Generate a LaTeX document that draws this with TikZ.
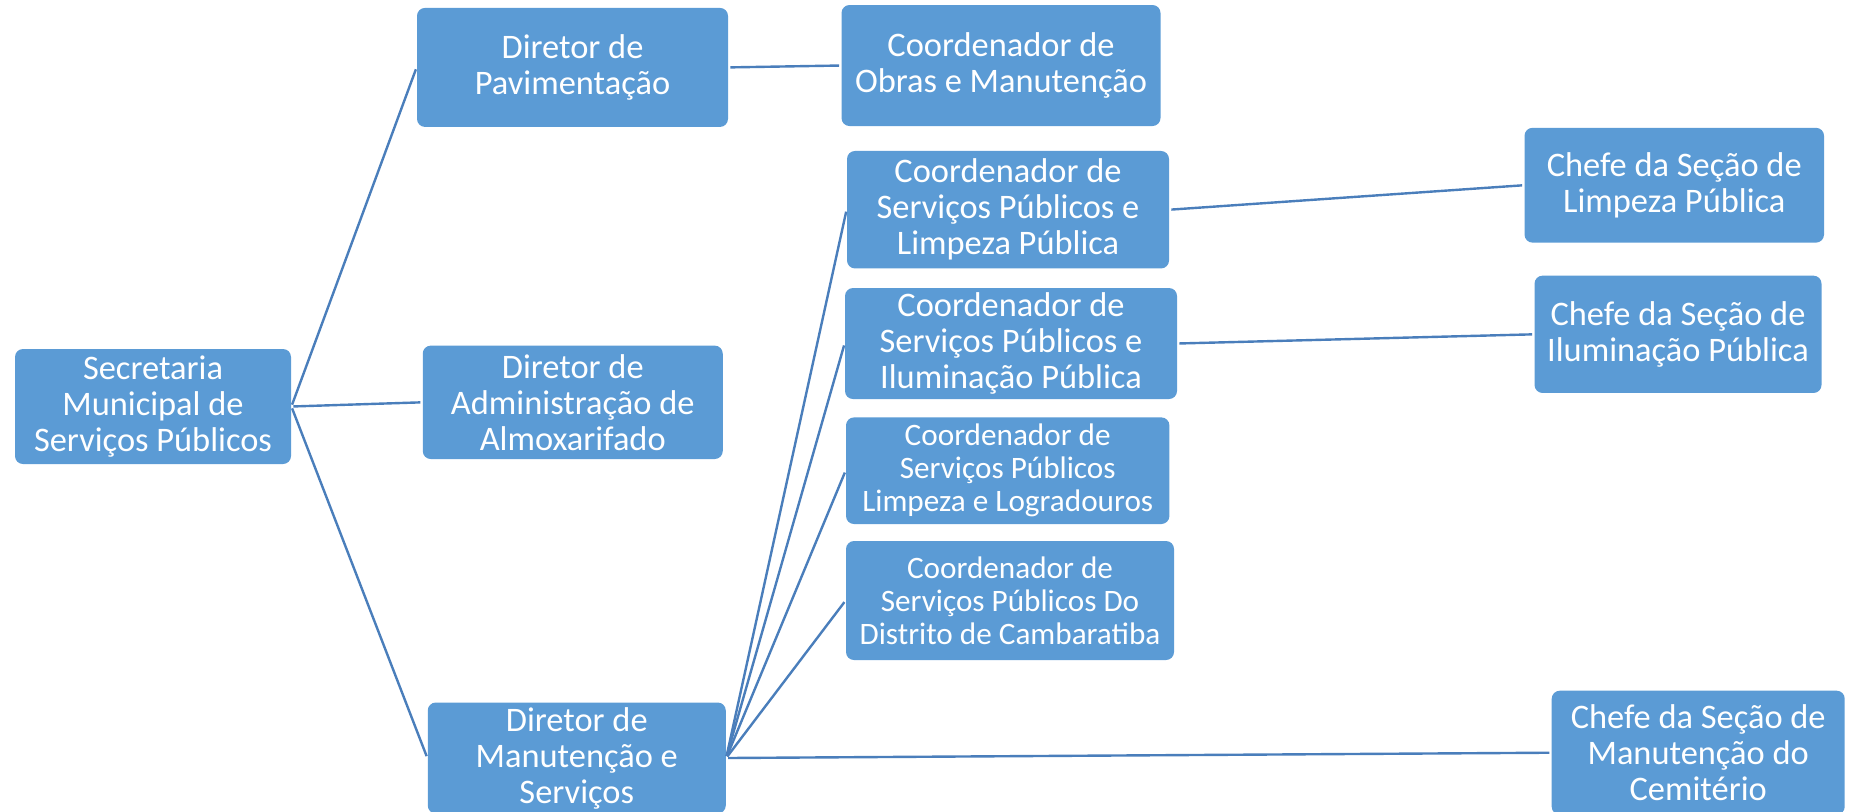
\documentclass[tikz,border=0pt]{standalone}
\usepackage{fontspec}
\setmainfont{Carlito}
\definecolor{boxblue}{HTML}{5B9BD5}
\definecolor{lineblue}{HTML}{4A7EBB}

\begin{document}
\begin{tikzpicture}[x=0.5pt,y=-0.5pt,
    box/.style={fill=boxblue, rounded corners=4pt, text=white, align=center,
      font=\fontsize{17.2}{18}\selectfont, inner sep=1pt},
    smallbox/.style={box, font=\fontsize{15.6}{16.5}\selectfont},
    link/.style={lineblue, line width=1.2pt, shorten <=1pt, shorten >=1pt}]
    \useasboundingbox (0,0) rectangle (1856,811);
    % First, locate each of the boxes and name them
    \node[box, minimum width=138pt, minimum height=57.5pt] (secretaria) at (153,406.5) {Secretaria\\Municipal de\\Serviços Públicos};
    \node[box, minimum width=155.5pt, minimum height=59.5pt] (pavimentacao) at (572.5,67.4) {Diretor de\\Pavimentação};
    \node[box, minimum width=150pt, minimum height=56.7pt] (almoxarifado) at (572.75,402.3) {Diretor de\\Administração de\\Almoxarifado};
    \node[box, minimum width=149pt, minimum height=55.5pt] (manutencao) at (576.75,758) {Diretor de\\Manutenção e\\Serviços};
    \node[box, minimum width=159.5pt, minimum height=60.5pt] (obras) at (1001,65.5) {Coordenador de\\Obras e Manutenção};
    \node[box, minimum width=161pt, minimum height=58.75pt] (coordlimpeza) at (1008,209.7) {Coordenador de\\Serviços Públicos e\\Limpeza Pública};
    \node[box, minimum width=166pt, minimum height=55.5pt] (coordilum) at (1011,343.5) {Coordenador de\\Serviços Públicos e\\Iluminação Pública};
    \node[smallbox, minimum width=161.7pt, minimum height=53.3pt] (coordlogr) at (1007.7,470.7) {Coordenador de\\Serviços Públicos\\Limpeza e Logradouros};
    \node[smallbox, minimum width=164pt, minimum height=59.5pt] (coordcamb) at (1010,600.5) {Coordenador de\\Serviços Públicos Do\\Distrito de Cambaratiba};
    \node[box, minimum width=149.75pt, minimum height=57.4pt] (chefelimpeza) at (1674.25,185.2) {Chefe da Seção de\\Limpeza Pública};
    \node[box, minimum width=143.5pt, minimum height=58.65pt] (chefeilum) at (1678,334.3) {Chefe da Seção de\\Iluminação Pública};
    \node[box, minimum width=146.5pt, minimum height=62pt] (chefecem) at (1698.2,752.7) {Chefe da Seção de\\Manutenção do\\Cemitério};
    % Now draw the lines
    \draw[link] (secretaria.east) -- (pavimentacao.west);
    \draw[link] (secretaria.east) -- (almoxarifado.west);
    \draw[link] (secretaria.east) -- (manutencao.west);
    \draw[link] (pavimentacao.east) -- (obras.west);
    \draw[link] (manutencao.east) -- (coordlimpeza.west);
    \draw[link] (manutencao.east) -- (coordilum.west);
    \draw[link] (manutencao.east) -- (coordlogr.west);
    \draw[link] (manutencao.east) -- (coordcamb.west);
    \draw[link] (manutencao.east) -- (chefecem.west);
    \draw[link] (coordlimpeza.east) -- (chefelimpeza.west);
    \draw[link] (coordilum.east) -- (chefeilum.west);
\end{tikzpicture}
\end{document}
